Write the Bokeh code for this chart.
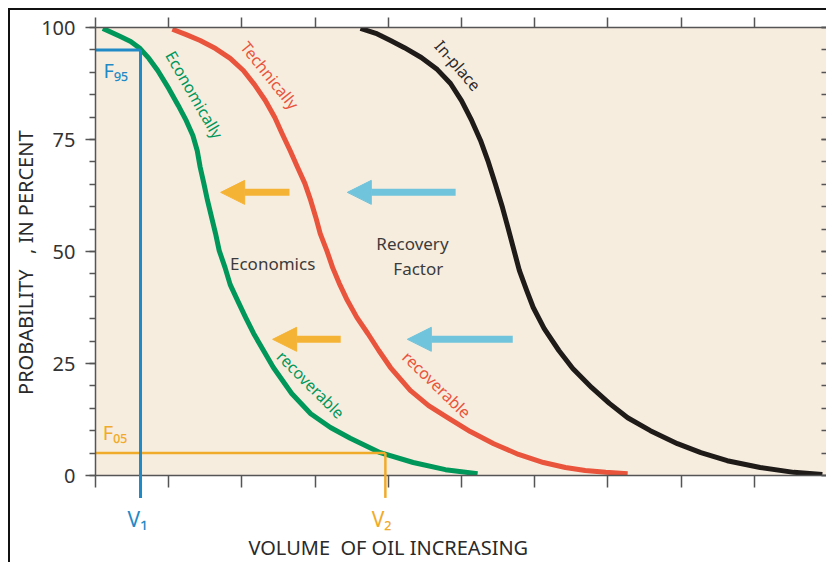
import math
from bokeh.plotting import figure
from bokeh.models import Range1d, LinearAxis, FixedTicker, Arrow, NormalHead
from bokeh.core.properties import value
from bokeh.embed import file_html
from bokeh.resources import INLINE

# ---- data ----
econ_x = [0.10, 0.34, 0.48, 0.61, 0.73, 0.85, 1.00, 1.13, 1.24, 1.33, 1.39, 1.43, 1.48, 1.53, 1.64,
          1.69, 1.77, 1.84, 1.94, 2.05, 2.16, 2.43, 2.68, 2.94, 3.21, 3.48, 3.89, 4.34, 4.78, 5.22]
econ_y = [99.8, 98.0, 96.9, 95.3, 93.1, 90.4, 86.4, 82.6, 79.2, 75.9, 72.5, 68.8, 65.2, 61.4, 54.0,
          50.2, 46.4, 42.6, 39.1, 35.3, 31.7, 24.1, 18.3, 13.8, 10.7, 8.3, 5.1, 2.9, 1.3, 0.4]

tech_x = [1.05, 1.24, 1.43, 1.64, 1.84, 2.02, 2.17, 2.32, 2.45, 2.55, 2.66, 2.76, 2.86, 2.94, 3.01,
          3.07, 3.16, 3.24, 3.33, 3.44, 3.57, 3.72, 3.87, 4.03, 4.30, 4.55, 4.81, 5.12, 5.44, 5.78,
          6.12, 6.42, 6.69, 6.97, 7.27]
tech_y = [99.6, 98.4, 97.1, 95.3, 93.1, 90.4, 87.3, 83.7, 79.9, 76.3, 72.5, 68.8, 65.2, 61.4, 57.6,
          54.0, 50.2, 46.4, 42.9, 39.1, 35.3, 31.7, 27.9, 24.1, 19.0, 15.6, 12.9, 9.8, 7.1, 4.7,
          2.9, 1.8, 1.1, 0.7, 0.4]

inplace_x = [3.62, 3.83, 4.03, 4.22, 4.45, 4.67, 4.85, 5.00, 5.14, 5.26, 5.36, 5.46, 5.56, 5.63, 5.70,
             5.79, 5.89, 5.98, 6.13, 6.33, 6.52, 6.78, 7.02, 7.27, 7.58, 7.95, 8.27, 8.63, 9.08, 9.54, 9.93]
inplace_y = [99.8, 98.7, 97.1, 95.5, 93.3, 90.6, 87.5, 83.7, 79.2, 74.8, 70.3, 65.2, 59.8, 55.6, 51.3,
             45.8, 41.3, 37.5, 32.8, 27.9, 23.9, 19.6, 16.1, 12.9, 10.0, 7.1, 5.1, 3.3, 1.8, 0.7, 0.2]

y_ticks = [0, 25, 50, 75, 100]
y_minor = list(range(0, 101, 5))
x_ticks = list(range(0, 11))

f95 = 95
f05 = 5
v1 = 0.615
v2 = 3.96
v_bottom = -5

arrow_tail_x = [2.65, 3.35, 4.92, 5.70]
arrow_tip_x = [1.71, 2.42, 3.44, 4.26]
arrow_y = [63.2, 30.4, 63.2, 30.4]
arrow_kind = ["econ", "econ", "recov", "recov"]

curve_label_text = ["Economically", "Technically", "In-place", "recoverable", "recoverable"]
curve_label_x = [1.35, 2.38, 4.95, 2.94, 4.66]
curve_label_y = [85.0, 89.3, 91.5, 20.3, 20.3]
curve_label_deg = [-60, -51, -49, -45, -44]

# ---- styles ----
BEIGE = "#f7eddf"
GREEN = "#00975a"
RED = "#e9543d"
BLACK = "#1e1b19"
BLUE = "#1f8ac6"
ORANGE = "#f1ab2b"
ORANGE_ARROW = "#f5b335"
LIGHTBLUE = "#70c4dc"
DARK = "#3b3b3b"
AXIS = "#555555"
TITLE = "#2a2a2a"
FONT = value("Noto Sans")

p = figure(width=818, height=554, x_range=Range1d(0, 10), y_range=Range1d(0, 100),
           output_backend="svg", toolbar_location=None,
           min_border_left=85, min_border_top=17, min_border_bottom=89, min_border_right=1,
           background_fill_color=BEIGE, border_fill_color="white")
p.styles = {"margin-left": "8px", "margin-top": "8px",
            "border-left": "2px solid #111111", "border-top": "2px solid #111111"}
p.grid.visible = False
p.outline_line_color = None


def style_axis(ax):
    ax.axis_line_color = AXIS
    ax.axis_line_width = 1.5
    ax.major_tick_line_color = AXIS
    ax.major_tick_line_width = 1.5
    ax.minor_tick_line_color = AXIS
    ax.minor_tick_line_width = 1.5


def hide_labels(ax):
    ax.major_label_text_color = None
    ax.major_label_text_font_size = "1px"
    ax.major_label_standoff = 0


yax = p.yaxis[0]
yax.ticker = FixedTicker(ticks=y_ticks, minor_ticks=y_minor)
style_axis(yax)
yax.major_tick_out = 10
yax.major_tick_in = 0
yax.minor_tick_out = 6
yax.minor_tick_in = 0
yax.major_label_text_font = "Noto Sans"
yax.major_label_text_font_size = "20px"
yax.major_label_text_color = "#333333"
yax.major_label_standoff = 10

xax = p.xaxis[0]
xax.ticker = FixedTicker(ticks=x_ticks)
style_axis(xax)
xax.major_tick_out = 12
xax.major_tick_in = 0
hide_labels(xax)

top = LinearAxis(ticker=FixedTicker(ticks=x_ticks), major_tick_out=10, major_tick_in=0)
style_axis(top)
hide_labels(top)
p.add_layout(top, "above")

right = LinearAxis(ticker=FixedTicker(ticks=y_ticks, minor_ticks=y_minor), major_tick_out=0, major_tick_in=6,
                   minor_tick_out=0, minor_tick_in=6)
style_axis(right)
hide_labels(right)
p.add_layout(right, "right")

# ---- curves ----
p.line(econ_x, econ_y, line_width=5, line_color=GREEN, line_join="round")
p.line(tech_x, tech_y, line_width=5, line_color=RED, line_join="round")
p.line(inplace_x, inplace_y, line_width=5, line_color=BLACK, line_join="round")

# ---- F95 / V1 and F05 / V2 guides ----
p.segment(x0=[0], y0=[f95], x1=[v1], y1=[f95], line_color=BLUE, line_width=3)
p.segment(x0=[v1], y0=[f95], x1=[v1], y1=[v_bottom], line_color=BLUE, line_width=3, level="overlay")
p.segment(x0=[0], y0=[f05], x1=[v2], y1=[f05], line_color=ORANGE, line_width=2.5)
p.segment(x0=[v2], y0=[f05], x1=[v2], y1=[v_bottom], line_color=ORANGE, line_width=2.5, level="overlay")

p.text(x=[0.11], y=[90.4], text=["F\u2089\u2085"], text_font=FONT, text_font_size="20px",
       text_color=BLUE, text_align="left", text_baseline="middle")
p.text(x=[0.10], y=[9.6], text=["F\u2080\u2085"], text_font=FONT, text_font_size="20px",
       text_color=ORANGE, text_align="left", text_baseline="middle")
p.text(x=[v1 - 0.04], y=[-9.6], text=["V\u2081"], text_font=FONT, text_font_size="21px",
       text_color=BLUE, text_align="center", text_baseline="middle", level="overlay")
p.text(x=[v2 - 0.05], y=[-9.6], text=["V\u2082"], text_font=FONT, text_font_size="21px",
       text_color=ORANGE, text_align="center", text_baseline="middle", level="overlay")

# axis titles (placed as in the reference, off-centre)
p.text(x=[4.0], y=[-16.0], text=["VOLUME\u00a0\u00a0OF OIL INCREASING"], text_font=FONT,
       text_font_size="20px", text_color=TITLE, text_align="center", text_baseline="middle",
       level="overlay")
p.text(x=[-0.96], y=[47.5], text=["PROBABILITY\u00a0\u00a0\u00a0, IN PERCENT"], text_font=FONT,
       text_font_size="20px", text_color=TITLE, text_align="center", text_baseline="middle",
       angle=[math.pi / 2], level="overlay")

# ---- arrows ----
for tx, hx, yy, kind in zip(arrow_tail_x, arrow_tip_x, arrow_y, arrow_kind):
    c = ORANGE_ARROW if kind == "econ" else LIGHTBLUE
    p.add_layout(Arrow(end=NormalHead(size=24, fill_color=c, line_color=c, line_width=1),
                       x_start=tx, y_start=yy, x_end=hx, y_end=yy,
                       line_color=c, line_width=7))

# ---- labels ----
label_colors = [GREEN, RED, "#2b2b2b", GREEN, RED]
p.text(x=curve_label_x, y=curve_label_y, text=curve_label_text,
       angle=[math.radians(d) for d in curve_label_deg],
       text_color=label_colors, text_font=FONT, text_font_size="16px",
       text_align="center", text_baseline="middle")

p.text(x=[2.42, 4.33, 4.41], y=[47.3, 51.8, 46.2], text=["Economics", "Recovery", "Factor"],
       text_color=DARK, text_font=FONT, text_font_size="17px",
       text_align="center", text_baseline="middle")

open("out.html", "w").write(file_html(p, INLINE))
